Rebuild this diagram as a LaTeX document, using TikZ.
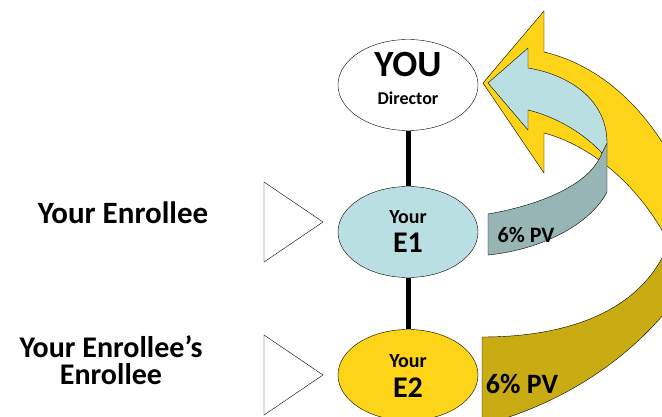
\documentclass[tikz,border=0pt]{standalone}
\usepackage{fontspec}
\setmainfont{Carlito}
\usepackage{tikz}
\usetikzlibrary{shapes.geometric, positioning}

\definecolor{paleblue}{HTML}{B9DFE3}
\definecolor{greyblue}{HTML}{97B5B5}
\definecolor{gold}{HTML}{FDD418}
\definecolor{darkgold}{HTML}{C9AB14}

\tikzset{
    bubble/.style={draw, ellipse, thin, minimum width=140pt, minimum height=91pt, inner sep=0pt},
    link/.style={line width=5pt},
    pointer/.style={draw, thin, fill=white},
    ribbon/.style={draw, thin},
    lbl/.style={font=\bfseries, inner sep=0pt}
}

\begin{document}
\begin{tikzpicture}[x=1pt, y=-1pt]
    \useasboundingbox (0,0) rectangle (662,417);

    % curved arrows
    \begin{scope}
        \clip (0,0) rectangle (662,417);
        \draw[ribbon, fill=darkgold] (482,337) -- (482,425)
            .. controls (560,405) and (630,360) .. (675,300) -- (690,240) -- (670,240)
            .. controls (645,310) and (570,337) .. (482,337) -- cycle;
        \draw[ribbon, fill=gold] (483,83) -- (544,11) -- (544,52)
            .. controls (600,65) and (650,110) .. (680,175) -- (700,240) -- (670,245)
            .. controls (640,185) and (590,145) .. (544,133) -- (544,173) -- cycle;
        \draw[ribbon, fill=greyblue] (488,214)
            .. controls (540,205) and (590,185) .. (602,153) -- (607,143) -- (607,192)
            .. controls (590,225) and (540,250) .. (488,255) -- cycle;
        \draw[ribbon, fill=paleblue] (488,83) -- (528,48) -- (528,68)
            .. controls (570,75) and (607,100) .. (607,143) -- (602,153)
            .. controls (585,135) and (560,118) .. (528,110) -- (528,130) -- cycle;
    \end{scope}

    \node[lbl, font=\bfseries\fontsize{22}{22}\selectfont] (pv1) at (526,235) {6\% PV};
    \node[lbl, font=\bfseries\fontsize{28}{28}\selectfont] (pv2) at (522,384) {6\% PV};

    % the line
    \node[bubble, fill=white] (you) at (408,85) {};
    \node[bubble, fill=paleblue] (e1) at (408,232) {};
    \node[bubble, fill=gold] (e2) at (408,375) {};
    \draw[link] (you) -- (e1);
    \draw[link] (e1) -- (e2);

    \node[lbl, anchor=base, font=\bfseries\fontsize{37}{37}\selectfont] (youtxt) at ([yshift=8pt]you.center) {YOU};
    \node[lbl, anchor=base, font=\bfseries\fontsize{18}{18}\selectfont] (dirtxt) at ([yshift=-20pt]you.center) {Director};
    \node[lbl, anchor=base, font=\bfseries\fontsize{20}{20}\selectfont] (e1your) at ([yshift=9pt]e1.center) {Your};
    \node[lbl, anchor=base, font=\bfseries\fontsize{30}{30}\selectfont] (e1txt) at ([yshift=-20pt]e1.center) {E1};
    \node[lbl, anchor=base, font=\bfseries\fontsize{20}{20}\selectfont] (e2your) at ([yshift=8pt]e2.center) {Your};
    \node[lbl, anchor=base, font=\bfseries\fontsize{30}{30}\selectfont] (e2txt) at ([yshift=-22pt]e2.center) {E2};

    % levels
    \draw[pointer] (264,182) -- (323,222) -- (264,262) -- cycle;
    \draw[pointer] (264,335) -- (323,375) -- (264,415) -- cycle;
    \node[lbl, anchor=base, font=\bfseries\fontsize{31}{31}\selectfont] (lev1) at (123,223) {Your Enrollee};
    \node[lbl, align=center, font=\bfseries\fontsize{30}{27}\selectfont] (lev2) at (111,360) {Your Enrollee’s\\Enrollee};
\end{tikzpicture}
\end{document}
